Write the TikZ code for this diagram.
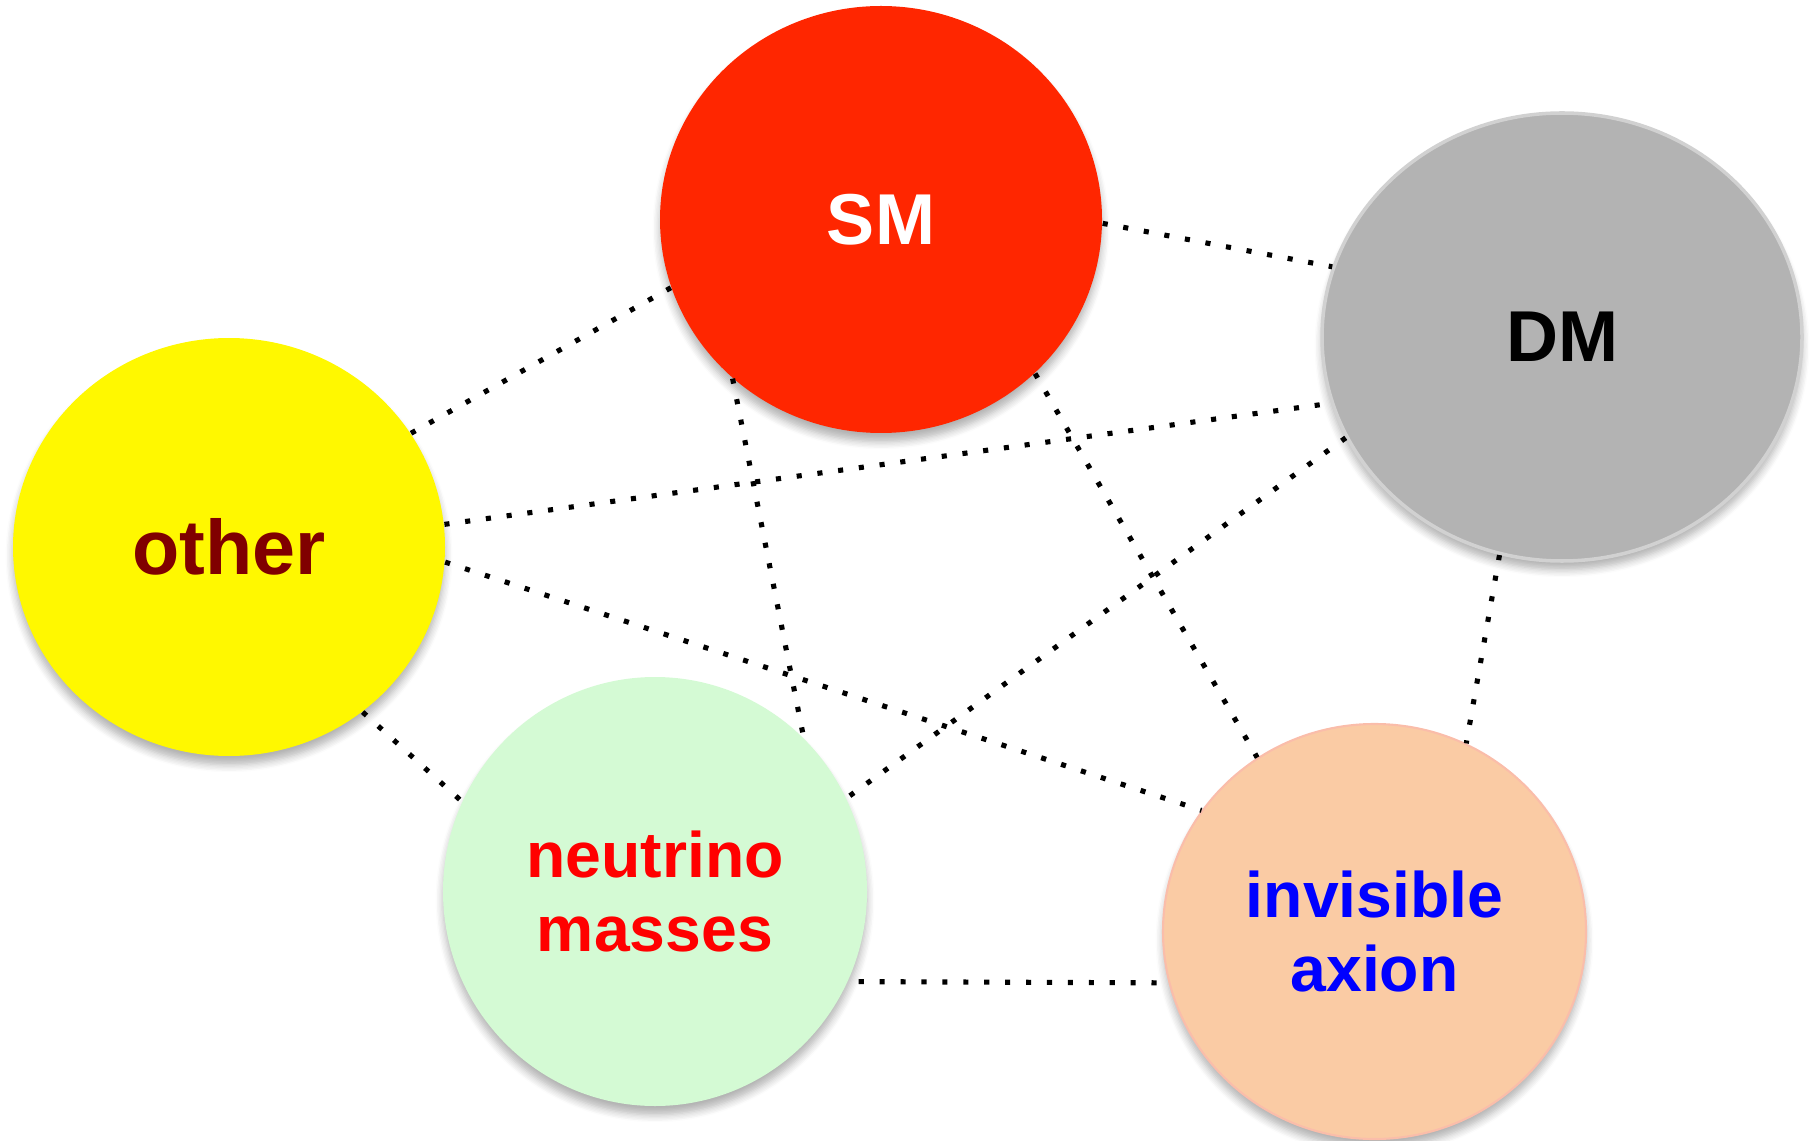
\documentclass[tikz,border=0pt]{standalone}
\usepackage{fontspec}
\setmainfont{Liberation Sans}
\usetikzlibrary{shapes.geometric, shadows.blur}

\definecolor{smred}{RGB}{255,38,0}
\definecolor{dmgray}{RGB}{179,179,179}
\definecolor{othyellow}{RGB}{255,248,0}
\definecolor{othtext}{RGB}{128,0,0}
\definecolor{nugreen}{RGB}{212,250,212}
\definecolor{axpeach}{RGB}{250,203,164}

\begin{document}
\begin{tikzpicture}[
  bubble/.style = {ellipse, inner sep=0pt, align=center,
                   font=\fontsize{20.5}{24}\selectfont\bfseries,
                   blur shadow={shadow xshift=0pt, shadow yshift=-2.5pt,
                                shadow blur steps=6, shadow opacity=30}},
  twoline/.style = {font=\fontsize{18.3}{20.8}\selectfont\bfseries},
  link/.style    = {line width=1.45pt, dash pattern=on 1.45pt off 4.5pt},
]
\useasboundingbox (0,0) rectangle (18.14,-11.41);

%── Circles ───────────────────────────────────────────────────────────────
\node[bubble, fill=smred, text=white,
      minimum width=4.42cm, minimum height=4.27cm] (SM) at (8.81,-2.195) {SM};

\node[bubble, fill=dmgray, draw=dmgray!60!white, line width=1pt, text=black,
      minimum width=4.80cm, minimum height=4.48cm] (DM) at (15.62,-3.37) {DM};

\node[bubble, fill=othyellow, text=othtext, font=\fontsize{22}{26}\selectfont\bfseries,
      minimum width=4.32cm, minimum height=4.18cm] (other) at (2.29,-5.47) {other};

\node[bubble, twoline, fill=nugreen, text=red,
      minimum width=4.24cm, minimum height=4.29cm] (neutrino) at (6.55,-8.915)
  {neutrino\\masses};

\node[bubble, twoline, fill=axpeach, draw=axpeach!93!magenta, line width=0.6pt, text=blue,
      minimum width=4.23cm, minimum height=4.15cm] (axion) at (13.745,-9.315)
  {invisible\\axion};

%── Dotted links ──────────────────────────────────────────────────────────
\draw[link] (SM.359)       -- (DM.163);
\draw[link] (other.32.5)   -- (SM.198);
\draw[link] (SM.227)       -- (neutrino.46);
\draw[link] (SM.315)       -- (axion.124);
\draw[link] (other.6.5)    -- (DM.196);
\draw[link] (DM.205)       -- (neutrino.26);
\draw[link] (other.356.6)  -- (axion.145.6);
\draw[link] (DM.254)       -- (axion.64.6);
\draw[link] (other.309.5)  -- (neutrino.155.6);
\draw[link, shorten <=3pt] (neutrino.335.5) -- (axion.194);

\end{tikzpicture}
\end{document}
